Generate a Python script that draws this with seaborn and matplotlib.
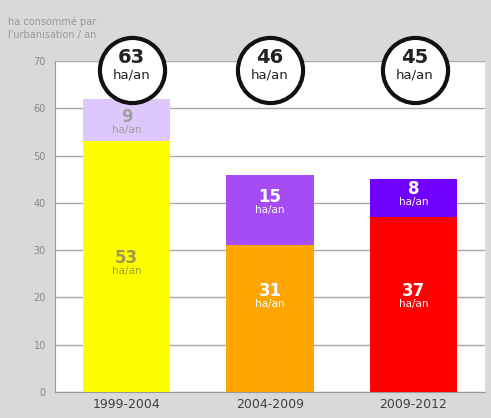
import matplotlib
matplotlib.use("Agg")
import matplotlib.pyplot as plt
import seaborn as sns
import pandas as pd

sns.set_style("white")
plt.rcParams['font.family'] = ['DejaVu Sans']

# data
periods = ['1999-2004', '2004-2009', '2009-2012']
base = [53, 31, 37]
extra = [9, 15, 8]
totals = [63, 46, 45]
base_colors = ['#ffff00', '#ffa500', '#ff0000']
extra_colors = ['#dcc8fa', '#a64cf5', '#7000ff']
base_text = ['#9a9a4a', 'white', 'white']
extra_text = ['#a0a0a0', 'white', 'white']

df = pd.DataFrame({'period': periods, 'base': base, 'extra': extra})
df['stack'] = df['base'] + df['extra']

fig = plt.figure(figsize=(4.91, 4.18), dpi=100, facecolor='#d9d9d9')
ax = fig.add_axes([0.112, 0.062, 0.876, 0.792])
ax.set_facecolor('white')

# top segment first, base drawn over it
sns.barplot(data=df, x='period', y='stack', hue='period', palette=extra_colors,
            legend=False, width=0.61, saturation=1, linewidth=0, ax=ax, zorder=2)
sns.barplot(data=df, x='period', y='base', hue='period', palette=base_colors,
            legend=False, width=0.61, saturation=1, linewidth=0, ax=ax, zorder=3)

ax.set_ylim(0, 70)
ax.set_xlim(-0.5, 2.5)
ax.set_yticks(range(0, 71, 10))
ax.yaxis.grid(True, color='#a8a8a8', lw=1)
ax.set_axisbelow(True)
ax.set_xlabel('')
ax.set_ylabel('')
ax.tick_params(axis='y', labelsize=7, colors='#888888', length=3, width=0.8)
ax.tick_params(axis='x', labelsize=9, labelcolor='#404040', length=0, pad=4)
ax.spines['top'].set_visible(False)
ax.spines['left'].set_color('#999999')
ax.spines['bottom'].set_color('#999999')
ax.spines['right'].set_color('#e0e0e0')

# labels inside the segments: number above anchor, unit below
base_anchor = [26.4, 19.5, 19.5]
extra_anchor = [56.2, 39.3, 41.0]
for i in range(3):
    ax.text(i, base_anchor[i], str(base[i]), ha='center', va='bottom', fontsize=12,
            fontweight='bold', color=base_text[i], zorder=5)
    ax.text(i, base_anchor[i] + 0.2, 'ha/an', ha='center', va='top', fontsize=7.5,
            color=base_text[i], zorder=5)
    ax.text(i, extra_anchor[i], str(extra[i]), ha='center', va='bottom', fontsize=12,
            fontweight='bold', color=extra_text[i], zorder=5)
    ax.text(i, extra_anchor[i] + 0.2, 'ha/an', ha='center', va='top', fontsize=7.5,
            color=extra_text[i], zorder=5)

# total badges, slightly off-centre as in the source
badge_x = [i + off for i, off in enumerate([0.035, 0, 0.01])]
ax.scatter(badge_x, [68.0] * 3, s=2200, facecolor='white', edgecolor='#111111',
           linewidth=3, zorder=6, clip_on=False)
for i in range(3):
    ax.text(badge_x[i], 68.7, str(totals[i]), ha='center', va='bottom', fontsize=14,
            fontweight='bold', color='#222222', zorder=7, clip_on=False)
    ax.text(badge_x[i], 68.5, 'ha/an', ha='center', va='top', fontsize=9.5,
            color='#222222', zorder=7, clip_on=False)

fig.text(0.016, 0.947, "ha consommé par", fontsize=7, color='#999999', va='center')
fig.text(0.016, 0.916, "l'urbanisation / an", fontsize=7, color='#999999', va='center')

fig.savefig('out.png', dpi=100, facecolor=fig.get_facecolor())
